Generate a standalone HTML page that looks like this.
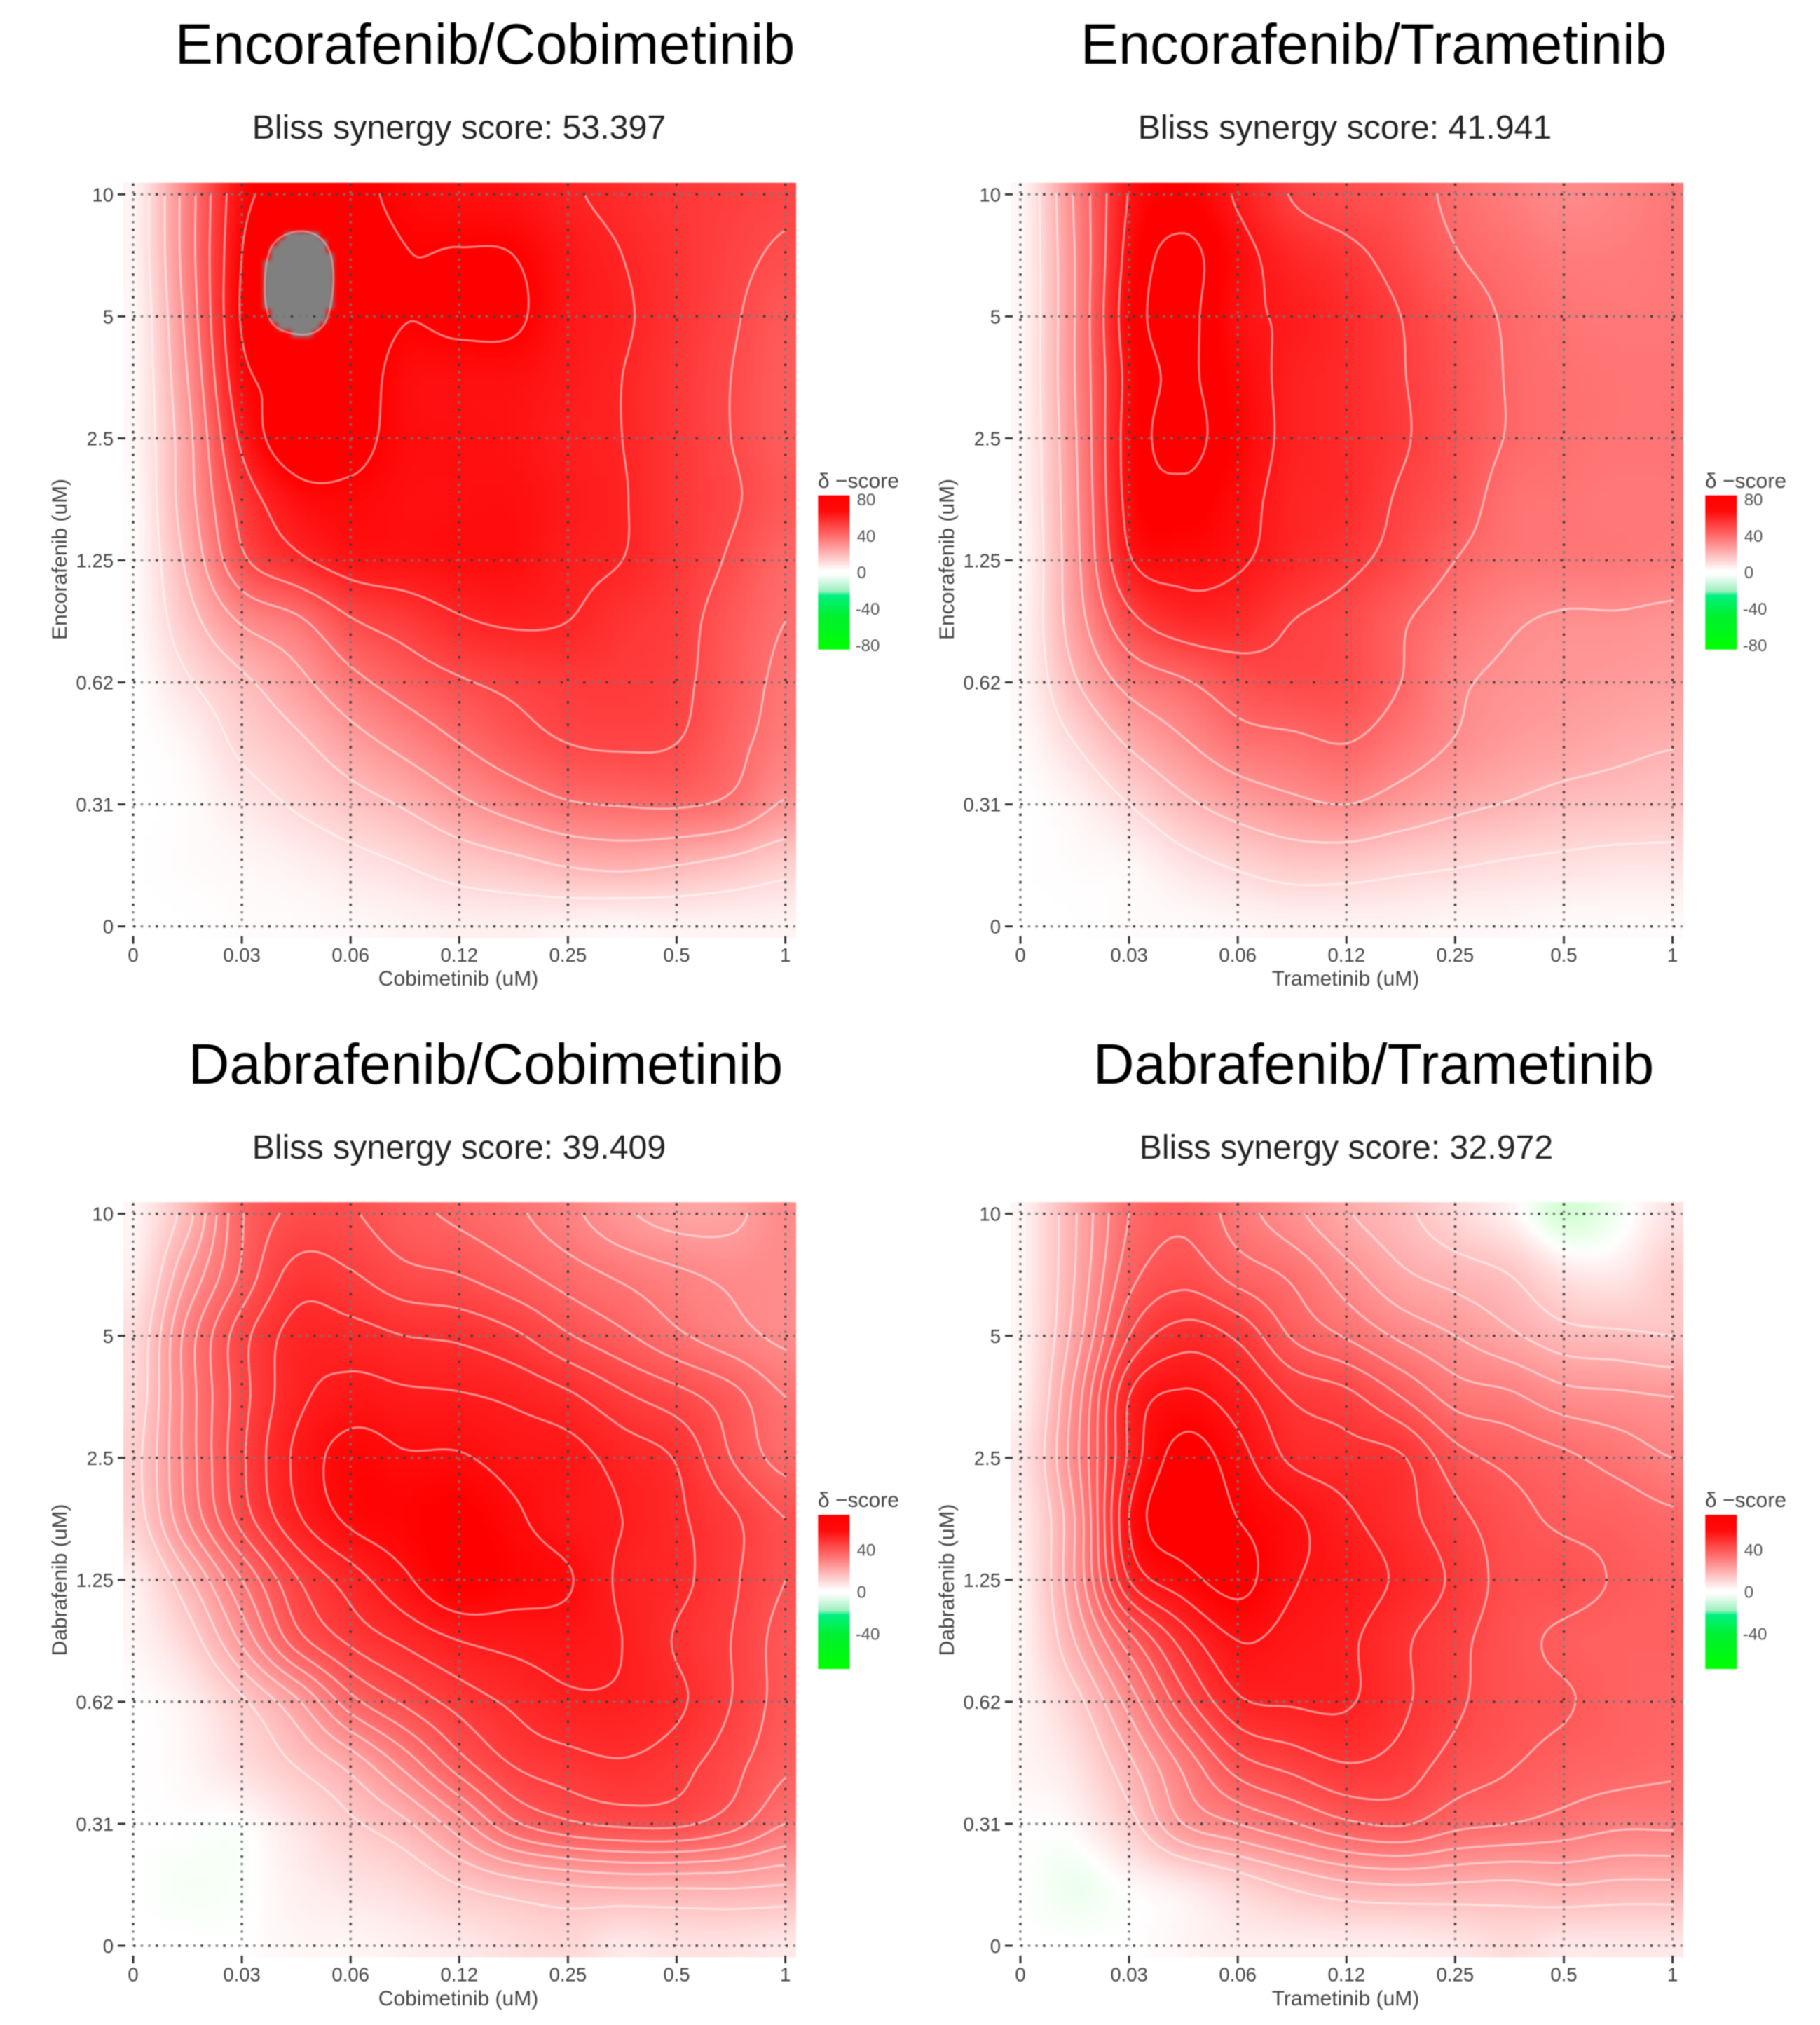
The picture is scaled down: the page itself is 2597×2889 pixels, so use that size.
<!DOCTYPE html>
<html lang="en">
<head>
<meta charset="utf-8">
<title>Bliss synergy maps</title>
<style>
html,body{margin:0;padding:0;background:#fff;}
#figure{display:block;position:absolute;left:0;top:0;filter:blur(0.8px);font-family:"Liberation Sans",sans-serif;}
.heat{filter:blur(3px);}
.title{font-size:81.2px;fill:#000;text-anchor:middle;}
.sub{font-size:48.3px;fill:#222;text-anchor:middle;}
.axt{font-size:30px;fill:#444;text-anchor:middle;}
.tick{font-size:27.5px;fill:#444;}
.leg{font-size:24px;fill:#555;}
.legt{font-size:30px;fill:#444;}
</style>
</head>
<body>
<svg id="figure" xmlns="http://www.w3.org/2000/svg" width="2597" height="2889" viewBox="0 0 2597 2889">
<defs>
<linearGradient id="legend-gradient" x1="0" y1="0" x2="0" y2="1">
<stop offset="0" stop-color="#ff0000"/><stop offset="0.1" stop-color="#ff0a0a"/><stop offset="0.27" stop-color="#ff7070"/><stop offset="0.49" stop-color="#ffffff"/><stop offset="0.51" stop-color="#ffffff"/><stop offset="0.62" stop-color="#9ff0c0"/><stop offset="0.65" stop-color="#00f080"/><stop offset="0.78" stop-color="#00f030"/><stop offset="1" stop-color="#00ff00"/>
</linearGradient>
</defs>
<rect width="2597" height="2889" fill="#fff"/>

<g id="panel-0">
<text class="title" x="692" y="91">Encorafenib/Cobimetinib</text>
<text class="sub" x="655" y="198">Bliss synergy score: 53.397</text>
<text class="axt" x="654" y="1406">Cobimetinib (uM)</text>
<text class="axt" transform="translate(95 798) rotate(-90)">Encorafenib (uM)</text>
<text class="legt" x="1167" y="696">δ −score</text>
</g>
<g id="panel-1">
<text class="title" x="1960" y="91">Encorafenib/Trametinib</text>
<text class="sub" x="1919" y="198">Bliss synergy score: 41.941</text>
<text class="axt" x="1920" y="1406">Trametinib (uM)</text>
<text class="axt" transform="translate(1361 798) rotate(-90)">Encorafenib (uM)</text>
<text class="legt" x="2433" y="696">δ −score</text>
</g>
<g id="panel-2">
<text class="title" x="693" y="1546">Dabrafenib/Cobimetinib</text>
<text class="sub" x="655" y="1653">Bliss synergy score: 39.409</text>
<text class="axt" x="654" y="2861">Cobimetinib (uM)</text>
<text class="axt" transform="translate(95 2254) rotate(-90)">Dabrafenib (uM)</text>
<text class="legt" x="1167" y="2150">δ −score</text>
</g>
<g id="panel-3">
<text class="title" x="1960" y="1546">Dabrafenib/Trametinib</text>
<text class="sub" x="1921" y="1653">Bliss synergy score: 32.972</text>
<text class="axt" x="1920" y="2861">Trametinib (uM)</text>
<text class="axt" transform="translate(1361 2254) rotate(-90)">Dabrafenib (uM)</text>
<text class="legt" x="2433" y="2150">δ −score</text>
</g>
</svg>

<script>
// Tick labels
const cobimetinibDoses = ["0","0.03","0.06","0.12","0.25","0.5","1"];
const trametinibDoses = ["0","0.03","0.06","0.12","0.25","0.5","1"];
const rafDoses = ["10","5","2.5","1.25","0.62","0.31","0"];
const legendTicksUpper = [80,40,0,-40,-80];
const legendTicksLower = [40,0,-40];

// Contour levels (delta score)
const levelsUpper = [10,20,30,40,50,60,70,80];
const levelsLower = [10,15,20,25,30,35,40,45,50,55,60];

// Colour saturation value and curve per panel
const colourCaps = [70,66,64,60];
const colourCurves = [1,1,0.8,0.8];

// Delta-score readings: rows from top dose to zero, half-dose steps across
const deltaEncorafenibCobimetinib = [
[3,35,67,71,72,68,66,65,61,58,55,53,51],
[3,35,70,85,76,70.3,70.5,70,64,60,56,52,49],
[2,33,71,83.5,76,70.3,72,71.5,64,61,56,51,46],
[2,30,67,70.5,74,67,66,66,63,60,55,50,45],
[2,27,62,75,73,67,66,65,62,60,55,50,45],
[1,26,54,66,68,66,66,66,63,60.5,55,51,46],
[1,22,48,58,64,65,66,66,62,60,55,49,42],
[1,16,31,38,49,54,59,61,60,56,53,46,40],
[0,9,18,27,37,44,49,52,54,54,52,45,38],
[0,3,12,18,26,33,40,46,50,51,50,43,36],
[0,1,6,11,16,21,28,34,39,40.5,41,38,29],
[0,1,2,4,7,10,14,17,20.5,22,20,17,13],
[0,0,1,1,2,3,4,4,3,2,3,3,3]
];
const deltaEncorafenibTrametinib = [
[2,31,60.5,66,59,49.5,46,44,38,34,30.5,32,35],
[2,30,63,72,63,56,52,47,40.5,37,34,34,35],
[2,30,65,72,62,59,55,50,44,39,36,35,35],
[2,30,63,71,64,58,55,50.5,45,39.5,37,36,36],
[2,29,64,72,65,58,55,51,45,39.5,37,36,36],
[2,28,63,68,63,57,55,49,44,37,36,35,35],
[1,27,59,63,61,56,52,47,40,36,35,35,34],
[2,25,47,55,55,50,47,41,35,31,29,29,28],
[2,19,33,39,45,47,46,40,31.5,28.5,27,26,25],
[1,10,21,29,36,38,40,35,29.5,26,24,22,20.5],
[0,3,10,18,24,28,30,26,22,19.5,17,16,15],
[0,1,2,7,11,14,14,12,10.5,9,8,7,7],
[0,0,1,1,2,3,3,3,2,2,1,1,1]
];
const deltaDabrafenibCobimetinib = [
[1,13,34.5,41,40.5,36.5,34,31,26.5,21,18,18.5,24],
[2,20,36,47,45.5,41.5,40,36.5,32.5,29,26,24,24],
[5,27,43,52,52,50,49,46,40.5,36,31,27,24],
[6,27,43,53.5,57,56,55.5,54,51,46,42,37,30],
[8,27,44,56,62,60.5,60.5,58,57,53,49.5,40,33],
[7,25,42,54,61,63,65,61,57,55,51,46,40],
[2,14,30,44.5,52.5,59,65,62.5,60.5,54,51.5,46,40],
[1,7,21,37.5,46,51,55,56.5,57,55,49.5,45,38],
[0,2,9,19,33,41,47,51,54,54,51,45,38],
[0,1,5,10.5,17,27,38,45.5,48,49.5,47,42,36],
[0,0,0,4,9,14,23,34,39,41,41,37,30],
[0,-1,-0.5,2,4,6,10,13,15,16,16,16,15],
[0,0,0,1,1,2,3,5,6,3,4,4,3]
];
const deltaDabrafenibTrametinib = [
[1,14.5,30,34,27.5,21.5,15.5,11.5,6,1.5,-5,-1.5,4],
[1,15,33,38,33,29,22,16,13,10,4,3,8],
[1,17,40,47.5,44,34.5,29.5,24,20,16,12,11,10],
[1,21.5,50,56,52,44.5,41.5,35,28,26,22,21,20],
[3,23,51,62,57,49,47,45.5,37,33.5,31,28,25],
[2,20,55,63,60,56,51,47,41.5,37,34,33,31],
[1,20,50,58,61.5,55.5,53,49,44,38,37,34.5,33],
[1,15,33,47,55,53,51,46,41.5,37,34,33,33],
[1,8,22,38,49,50.5,50.5,46,41,37,35.5,33,32],
[1,4,14,26.5,38,42,45,43,38,35.5,33,32,31],
[0,1,8,20,25,29.5,34,35.5,31.5,30,28,26,26],
[0,-2,0.5,3,7,11,14,15,14.5,14,15,14,14],
[0,0,0,1,2,2,2,2,3,5,3,3,3]
];

const panelMatrices = [deltaEncorafenibCobimetinib, deltaEncorafenibTrametinib, deltaDabrafenibCobimetinib, deltaDabrafenibTrametinib];
const panelXLabels = [cobimetinibDoses, trametinibDoses, cobimetinibDoses, trametinibDoses];
const panelLevels = [levelsUpper, levelsUpper, levelsLower, levelsLower];
const panelLegendTicks = [legendTicksUpper, legendTicksUpper, legendTicksLower, legendTicksLower];

const NS = "http://www.w3.org/2000/svg";
function make(tag, parent){
  const el = document.createElementNS(NS, tag);
  parent.appendChild(el);
  return el;
}

function catmull(p0,p1,p2,p3,t){
  return 0.5*((2*p1)+(-p0+p2)*t+(2*p0-5*p1+4*p2-p3)*t*t+(-p0+3*p1-3*p2+p3)*t*t*t);
}
function sampler(m){
  const R = m.length, C = m[0].length;
  const at = (r,c)=>m[Math.max(0,Math.min(R-1,r))][Math.max(0,Math.min(C-1,c))];
  return function(rf,cf){
    rf = Math.max(0,Math.min(R-1,rf));
    cf = Math.max(0,Math.min(C-1,cf));
    const r = Math.min(R-2,Math.floor(rf)), c = Math.min(C-2,Math.floor(cf));
    const tr = rf-r, tc = cf-c, col = [];
    for(let i=-1;i<=2;i++){
      col.push(catmull(at(r+i,c-1),at(r+i,c),at(r+i,c+1),at(r+i,c+2),tc));
    }
    return catmull(col[0],col[1],col[2],col[3],tr);
  };
}
function colour(v,cap,curve){
  if(v>=80) return "rgb(128,128,128)";
  if(v>=0){
    const g = Math.round(255*(1-Math.pow(Math.min(1,v/cap),curve)));
    return "rgb(255,"+g+","+g+")";
  }
  const k = Math.round(255*(1-Math.min(1,-v/30)));
  return "rgb("+k+",255,"+k+")";
}

function drawPanel(index){
  const col = index%2, row = Math.floor(index/2);
  const oX = col*1266, oY = row*1454.4;
  const x0 = 190+oX, dx = 155.1, yTop = 277.3+oY, dy = 174.05;
  const left = x0-14, right = x0+946, top = yTop-16.5, bottom = yTop+1060.7;
  const data = panelMatrices[index];
  const xLabels = panelXLabels[index];
  const levels = panelLevels[index];
  const legendTicks = panelLegendTicks[index];
  const cap = colourCaps[index];
  const curve = colourCurves[index];
  const value = sampler(data);
  const stepsX = data[0].length-1, stepsY = data.length-1;
  // axis functions: value index <-> pixel
  const xScale = i => x0+i*dx;
  const yScale = i => yTop+i*dy;
  const xInv = px => (px-x0)/(6*dx)*stepsX;
  const yInv = py => (py-yTop)/(6*dy)*stepsY;

  const host = document.getElementById("panel-"+index);
  const first = host.firstChild;

  const clip = document.createElementNS(NS,"clipPath");
  clip.setAttribute("id","heat-clip-"+index);
  const clipRect = make("rect",clip);
  clipRect.setAttribute("x",left);
  clipRect.setAttribute("y",top);
  clipRect.setAttribute("width",right-left);
  clipRect.setAttribute("height",bottom-top);
  document.querySelector("#figure defs").appendChild(clip);

  const heatClip = document.createElementNS(NS,"g");
  host.insertBefore(heatClip, first);
  heatClip.setAttribute("clip-path","url(#heat-clip-"+index+")");
  
  
  const heat = make("g",heatClip);
  heat.setAttribute("class","heat");
  
  

  const cell = 10;
  for(let py=top-20; py<bottom+20; py+=cell){
    for(let px=left-20; px<right+20; px+=cell){
      const v = value(yInv(py+cell/2), xInv(px+cell/2));
      const r = make("rect",heat);
      
      
      r.setAttribute("x",px);
      r.setAttribute("y",py);
      r.setAttribute("width",cell+0.5);
      r.setAttribute("height",cell+0.5);
      r.setAttribute("fill",colour(v,cap,curve));
      r.setAttribute("shape-rendering","crispEdges");
    }
  }

  // contours by marching squares over the dose range
  const step = 5;
  const nx = Math.round(6*dx/step), ny = Math.round(6*dy/step);
  const gx = 6*dx/nx, gy = 6*dy/ny;
  const field = [];
  for(let j=0;j<=ny;j++){
    const line = [];
    for(let i=0;i<=nx;i++){
      line.push(value(j/ny*stepsY, i/nx*stepsX));
    }
    field.push(line);
  }
  const contours = document.createElementNS(NS,"g");
  host.insertBefore(contours, first);
  
  
  levels.forEach(function(L){
    let d = "";
    for(let j=0;j<ny;j++){
      for(let i=0;i<nx;i++){
        const a=field[j][i], b=field[j][i+1], c=field[j+1][i+1], e=field[j+1][i];
        const pts = [];
        const X = x0+i*gx, Y = yTop+j*gy;
        if((a<L)!==(b<L)) pts.push([X+gx*(L-a)/(b-a),Y]);
        if((b<L)!==(c<L)) pts.push([X+gx,Y+gy*(L-b)/(c-b)]);
        if((e<L)!==(c<L)) pts.push([X+gx*(L-e)/(c-e),Y+gy]);
        if((a<L)!==(e<L)) pts.push([X,Y+gy*(L-a)/(e-a)]);
        for(let k=0;k+1<pts.length;k+=2){
          d += "M"+pts[k][0].toFixed(1)+" "+pts[k][1].toFixed(1)+"L"+pts[k+1][0].toFixed(1)+" "+pts[k+1][1].toFixed(1);
        }
      }
    }
    if(d){
      const p = make("path",contours);
      
      
      p.setAttribute("d",d);
      p.setAttribute("fill","none");
      p.setAttribute("stroke",L>=80?"#e8c8c8":"#ffffff");
      p.setAttribute("stroke-opacity","0.5");
      p.setAttribute("stroke-width","3");
      p.setAttribute("stroke-linecap","round");
    }
  });

  // dotted grid, ticks, labels
  const axes = document.createElementNS(NS,"g");
  host.insertBefore(axes, first);
  
  
  const gridLine = function(x1,y1,x2,y2,name){
    const base = make("line",axes);
    
    
    base.setAttribute("x1",x1); base.setAttribute("y1",y1);
    base.setAttribute("x2",x2); base.setAttribute("y2",y2);
    base.setAttribute("stroke","#777");
    base.setAttribute("stroke-opacity","0.85");
    base.setAttribute("stroke-width","3.5");
    base.setAttribute("stroke-dasharray","3.5 7.2");
    const dark = make("line",axes);
    
    
    dark.setAttribute("x1",x1); dark.setAttribute("y1",y1);
    dark.setAttribute("x2",x2); dark.setAttribute("y2",y2);
    dark.setAttribute("stroke","#333");
    dark.setAttribute("stroke-opacity","0.8");
    dark.setAttribute("stroke-width","3.5");
    dark.setAttribute("stroke-dasharray","3.5 28.6");
  };
  xLabels.forEach(function(lab,i){
    const x = xScale(i);
    gridLine(x,top+1,x,yScale(6),"x-grid-line");
    const t = make("line",axes);
    
    
    t.setAttribute("x1",x); t.setAttribute("x2",x);
    t.setAttribute("y1",yScale(6)+14); t.setAttribute("y2",yScale(6)+25);
    t.setAttribute("stroke","#333");
    t.setAttribute("stroke-width","3");
    const tx = make("text",axes);
    
    
    tx.setAttribute("class","tick");
    tx.setAttribute("x",x);
    tx.setAttribute("y",yScale(6)+50.5);
    tx.setAttribute("text-anchor","middle");
    tx.textContent = lab;
  });
  rafDoses.forEach(function(lab,i){
    const y = yScale(i);
    gridLine(x0,y,right,y,"y-grid-line");
    const t = make("line",axes);
    
    
    t.setAttribute("x1",x0-22); t.setAttribute("x2",x0-11);
    t.setAttribute("y1",y); t.setAttribute("y2",y);
    t.setAttribute("stroke","#333");
    t.setAttribute("stroke-width","3");
    const tx = make("text",axes);
    
    
    tx.setAttribute("class","tick");
    tx.setAttribute("x",x0-28);
    tx.setAttribute("y",y+10);
    tx.setAttribute("text-anchor","end");
    tx.textContent = lab;
  });

  // legend
  const barTop = 706.7+oY, barH = 220;
  const legend = document.createElementNS(NS,"g");
  host.appendChild(legend);
  
  
  const bar = make("rect",legend);
  
  
  bar.setAttribute("x",1167.3+oX);
  bar.setAttribute("y",barTop);
  bar.setAttribute("width",45);
  bar.setAttribute("height",barH);
  bar.setAttribute("fill","url(#legend-gradient)");
  const legendRange = Math.max.apply(null,legendTicks);
  const legendPixelsPerUnit = legendRange===80 ? 1.3 : 1.5;
  const legendZero = 816.7+oY;
  legendTicks.forEach(function(v){
    const y = legendZero - v*legendPixelsPerUnit;
    const lt = make("text",legend);
    
    
    lt.setAttribute("class","leg");
    lt.setAttribute("x",1222.7+oX-(v<0?2:0));
    lt.setAttribute("y",y+8.5);
    lt.textContent = String(v);
  });
}
[0,1,2,3].forEach(drawPanel);
</script>
</body>
</html>
